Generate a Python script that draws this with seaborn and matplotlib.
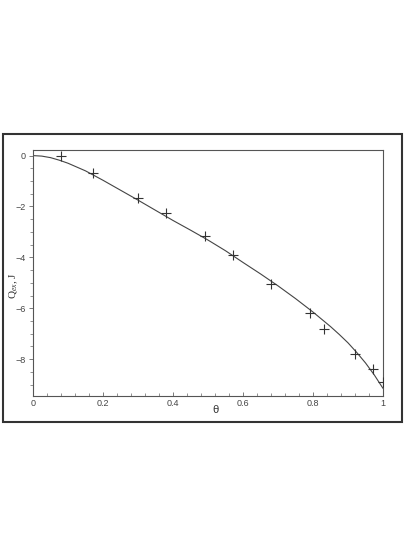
import matplotlib
matplotlib.use("Agg")
import matplotlib.pyplot as plt
import seaborn as sns
import pandas as pd
from matplotlib.patches import Rectangle
from matplotlib.ticker import MultipleLocator

# measured points (crosses)
theta_pts = [0.08, 0.17, 0.30, 0.38, 0.49, 0.57, 0.68, 0.79, 0.83, 0.92, 0.97, 1.00]
q_pts = [-0.03, -0.69, -1.67, -2.26, -3.15, -3.89, -5.03, -6.2, -6.8, -7.8, -8.4, -8.9]

# model curve
theta_line = [0.0, 0.025, 0.05, 0.075, 0.1, 0.15, 0.2, 0.25, 0.3, 0.35, 0.4, 0.45, 0.5,
              0.55, 0.6, 0.65, 0.7, 0.75, 0.8, 0.85, 0.875, 0.9, 0.925, 0.95, 0.975, 1.0]
q_line = [0.0, -0.02, -0.08, -0.18, -0.3, -0.6, -0.97, -1.36, -1.75, -2.15, -2.55, -2.93,
          -3.32, -3.74, -4.2, -4.65, -5.12, -5.62, -6.15, -6.72, -7.03, -7.36, -7.74,
          -8.15, -8.62, -9.15]

x_ticks = [0, 0.2, 0.4, 0.6, 0.8, 1]
x_labels = ["0", "0.2", "0.4", "0.6", "0.8", "1"]
y_ticks = [0, -2, -4, -6, -8]
y_labels = ["0", "\u22122", "\u22124", "\u22126", "\u22128"]

sns.set_style("ticks")
plt.rcParams["font.family"] = ["Liberation Sans", "DejaVu Sans"]
plt.rcParams["mathtext.fontset"] = "custom"
plt.rcParams["mathtext.rm"] = "Liberation Serif"
plt.rcParams["mathtext.it"] = "Liberation Serif:italic"

pts = pd.DataFrame({"theta": theta_pts, "q": q_pts})
line = pd.DataFrame({"theta": theta_line, "q": q_line})

fig = plt.figure(figsize=(4.15, 5.37), dpi=100)
ax = fig.add_axes([33 / 415, 1 - 396 / 537, 350 / 415, 246 / 537])

sns.lineplot(data=line, x="theta", y="q", ax=ax, color="#444444", linewidth=0.8)
sns.scatterplot(data=pts, x="theta", y="q", ax=ax, marker="+", s=55,
                color="#333333", linewidth=0.8, zorder=3)

ax.set_xlim(0, 1)
ax.set_ylim(-9.45, 0.22)
ax.set_xticks(x_ticks)
ax.set_xticklabels(x_labels)
ax.set_yticks(y_ticks)
ax.set_yticklabels(y_labels)
ax.xaxis.set_minor_locator(MultipleLocator(0.04))
ax.yaxis.set_minor_locator(MultipleLocator(0.5))
ax.tick_params(axis="both", which="major", labelsize=6.5, labelcolor="#444444",
               color="#666666", length=3, width=0.6, pad=2)
ax.tick_params(axis="both", which="minor", color="#666666", length=2, width=0.5)
ax.tick_params(axis="x", which="both", direction="in")
ax.tick_params(axis="y", which="both", direction="out")

for s in ax.spines.values():
    s.set_visible(True)
    s.set_color("#555555")
    s.set_linewidth(0.8)

ax.set_xlabel("")
ax.set_ylabel("")
ax.text(0.52, -0.057, "\u03b8", transform=ax.transAxes, ha="center", va="center",
        fontsize=8, color="#333333")
ax.text(-0.054, 0.45, "Q$_{ex}$, J", transform=ax.transAxes, ha="center", va="center",
        rotation=90, fontsize=8, color="#333333", family="Liberation Serif")

# outer frame
fig.patches.append(Rectangle((3 / 415, 1 - 422 / 537), 399 / 415, 288 / 537,
                             transform=fig.transFigure, fill=False,
                             edgecolor="#333333", linewidth=1.5))

fig.savefig("out.png", dpi=100)
